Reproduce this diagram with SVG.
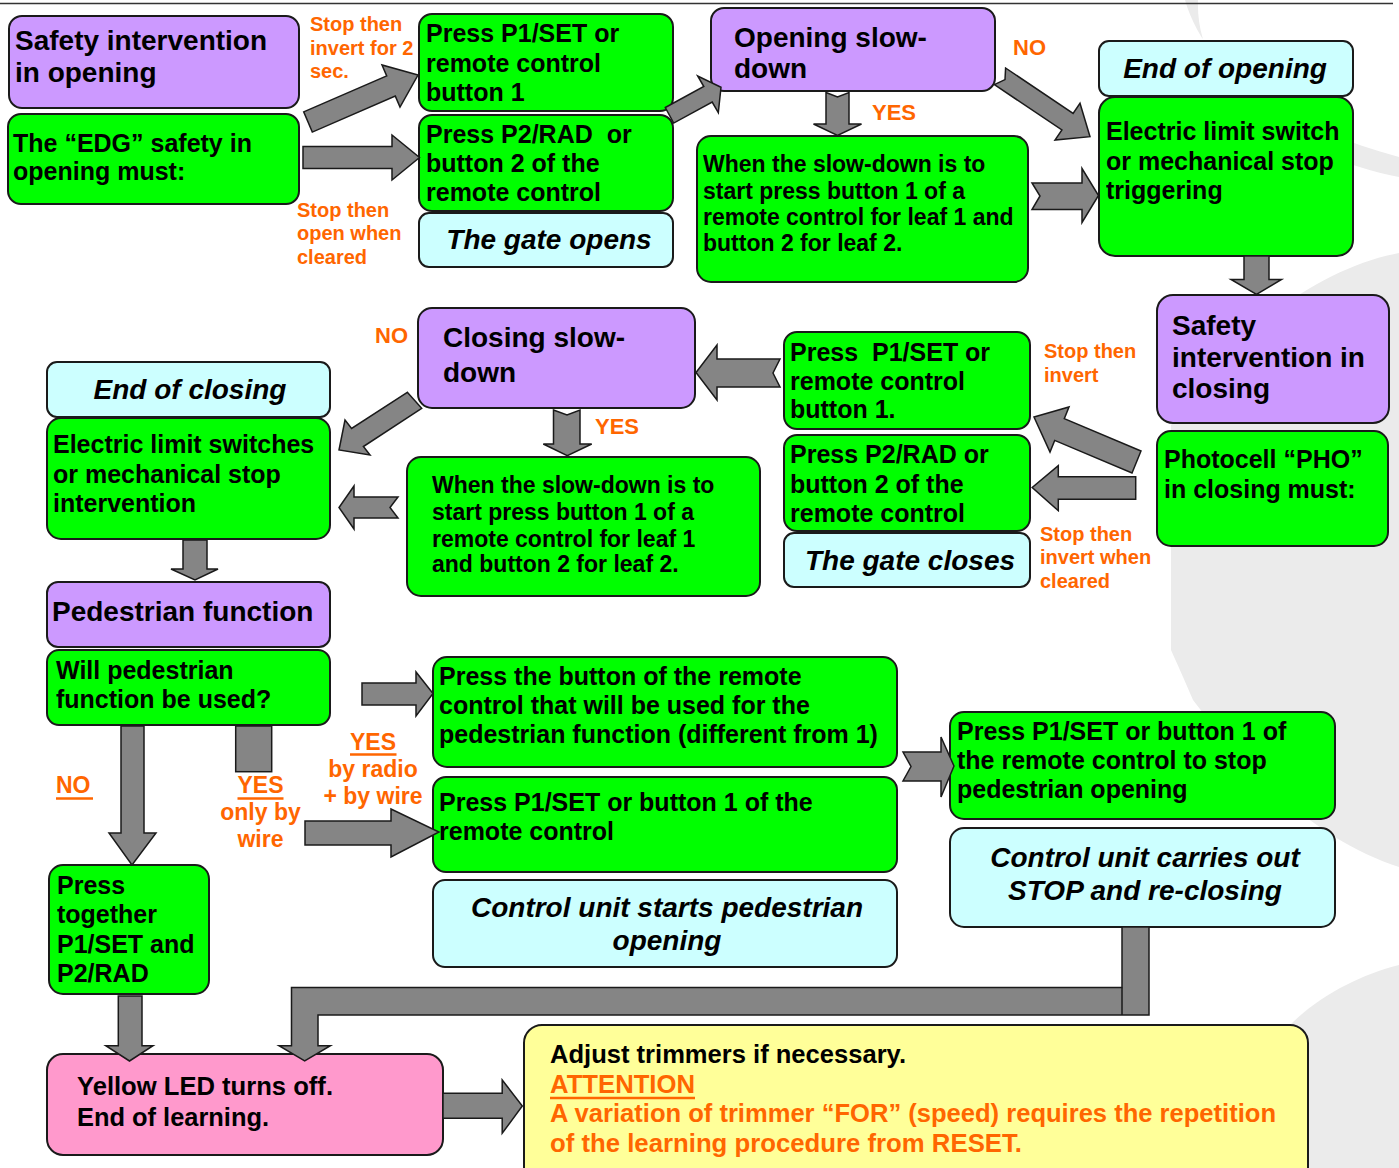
<svg xmlns="http://www.w3.org/2000/svg" width="1399" height="1168" viewBox="0 0 1399 1168">
<style>
.b{stroke:#1a1a1a;stroke-width:2}
.pu{fill:#cc99ff}.gr{fill:#00ff00}.cy{fill:#ccffff}.pk{fill:#ff99cc}.ye{fill:#ffff99}
text{font-family:"Liberation Sans",Arial,sans-serif;font-weight:bold;fill:#000}
.s25{font-size:25px}.s28{font-size:28px}.s23{font-size:23px}
.it{font-style:italic}
.o{fill:#ff6600}
.o20{font-size:20px}.o22{font-size:22px}.o23{font-size:23px}
.ar{fill:#858585;stroke:#1a1a1a;stroke-width:1.5;stroke-linejoin:miter}
.ul{stroke:#ff6600;stroke-width:2.5}
.bg{fill:#ebebeb}
</style>
<rect width="1399" height="1168" fill="#ffffff"/>
<g id="background">
<path class="bg" d="M1185,0 C1205,70 1280,125 1399,157 L1399,177 C1270,150 1195,80 1198,0 Z"/>
<path class="bg" d="M1399,253 C1350,262 1300,290 1250,330 L1171,425 L1171,650 C1180,670 1188,688 1193,700 C1260,790 1330,845 1399,867 Z"/>
<path class="bg" d="M1399,965 C1360,975 1320,995 1290,1025 L1290,1168 L1399,1168 Z"/>
<line x1="0" y1="3.5" x2="1393" y2="3.5" stroke="#333" stroke-width="1.5"/>
</g>

<g id="n-safety-opening"><rect class="b pu" x="9" y="16" width="290" height="92" rx="13"/>
<text class="s28" x="15" y="50">Safety intervention</text><text class="s28" x="15" y="82">in opening</text></g>
<g id="n-edg"><rect class="b gr" x="8" y="114" width="291" height="90" rx="13"/>
<text class="s25" x="13" y="152">The “EDG” safety in</text><text class="s25" x="13" y="180">opening must:</text></g>
<g id="n-p1-open"><rect class="b gr" x="419" y="14" width="254" height="97" rx="13"/>
<text class="s25" x="426" y="42">Press P1/SET or</text><text class="s25" x="426" y="72">remote control</text><text class="s25" x="426" y="101">button 1</text></g>
<g id="n-p2-open"><rect class="b gr" x="419" y="115" width="254" height="96" rx="13"/>
<text class="s25" x="426" y="143" xml:space="preserve">Press P2/RAD  or</text><text class="s25" x="426" y="172">button 2 of the</text><text class="s25" x="426" y="201">remote control</text></g>
<g id="n-gate-opens"><rect class="b cy" x="419" y="213" width="254" height="54" rx="10"/>
<text class="s28 it" x="549" y="249" text-anchor="middle">The gate opens</text></g>
<g id="n-open-slow"><rect class="b pu" x="711" y="8" width="284" height="83" rx="13"/>
<text class="s28" x="734" y="47">Opening slow-</text><text class="s28" x="734" y="78">down</text></g>
<g id="n-when-open"><rect class="b gr" x="697" y="136" width="331" height="146" rx="14"/>
<text class="s23" x="703" y="172">When the slow-down is to</text><text class="s23" x="703" y="199">start press button 1 of a</text><text class="s23" x="703" y="225">remote control for leaf 1 and</text><text class="s23" x="703" y="251">button 2 for leaf 2.</text></g>
<g id="n-end-open"><rect class="b cy" x="1099" y="41" width="254" height="55" rx="10"/>
<text class="s28 it" x="1225" y="78" text-anchor="middle">End of opening</text></g>
<g id="n-limit-open"><rect class="b gr" x="1099" y="97" width="254" height="159" rx="16"/>
<text class="s25" x="1106" y="140">Electric limit switch</text><text class="s25" x="1106" y="170">or mechanical stop</text><text class="s25" x="1106" y="199">triggering</text></g>
<g id="n-safety-closing"><rect class="b pu" x="1157" y="295" width="232" height="128" rx="16"/>
<text class="s28" x="1172" y="335">Safety</text><text class="s28" x="1172" y="367">intervention in</text><text class="s28" x="1172" y="398">closing</text></g>
<g id="n-pho"><rect class="b gr" x="1157" y="431" width="231" height="115" rx="14"/>
<text class="s25" x="1164" y="468">Photocell “PHO”</text><text class="s25" x="1164" y="498">in closing must:</text></g>
<g id="n-p1-close"><rect class="b gr" x="784" y="332" width="246" height="97" rx="13"/>
<text class="s25" x="790" y="361" xml:space="preserve">Press  P1/SET or</text><text class="s25" x="790" y="390">remote control</text><text class="s25" x="790" y="418">button 1.</text></g>
<g id="n-p2-close"><rect class="b gr" x="784" y="435" width="246" height="96" rx="13"/>
<text class="s25" x="790" y="463">Press P2/RAD or</text><text class="s25" x="790" y="493">button 2 of the</text><text class="s25" x="790" y="522">remote control</text></g>
<g id="n-gate-closes"><rect class="b cy" x="784" y="533" width="246" height="54" rx="10"/>
<text class="s28 it" x="910" y="570" text-anchor="middle">The gate closes</text></g>
<g id="n-close-slow"><rect class="b pu" x="418" y="308" width="277" height="100" rx="14"/>
<text class="s28" x="443" y="347">Closing slow-</text><text class="s28" x="443" y="382">down</text></g>
<g id="n-when-close"><rect class="b gr" x="407" y="457" width="353" height="139" rx="14"/>
<text class="s23" x="432" y="493">When the slow-down is to</text><text class="s23" x="432" y="520">start press button 1 of a</text><text class="s23" x="432" y="547">remote control for leaf 1</text><text class="s23" x="432" y="572">and button 2 for leaf 2.</text></g>
<g id="n-end-close"><rect class="b cy" x="47" y="362" width="283" height="55" rx="10"/>
<text class="s28 it" x="190" y="399" text-anchor="middle">End of closing</text></g>
<g id="n-limit-close"><rect class="b gr" x="47" y="418" width="283" height="121" rx="14"/>
<text class="s25" x="53" y="453">Electric limit switches</text><text class="s25" x="53" y="483">or mechanical stop</text><text class="s25" x="53" y="512">intervention</text></g>
<g id="n-ped"><rect class="b pu" x="47" y="582" width="283" height="65" rx="11"/>
<text class="s28" x="52" y="621">Pedestrian function</text></g>
<g id="n-ped-q"><rect class="b gr" x="47" y="650" width="283" height="75" rx="12"/>
<text class="s25" x="56" y="679">Will pedestrian</text><text class="s25" x="56" y="708">function be used?</text></g>
<g id="n-together"><rect class="b gr" x="49" y="865" width="160" height="129" rx="14"/>
<text class="s25" x="57" y="894">Press</text><text class="s25" x="57" y="923">together</text><text class="s25" x="57" y="953">P1/SET and</text><text class="s25" x="57" y="982">P2/RAD</text></g>
<g id="n-press-remote"><rect class="b gr" x="433" y="657" width="464" height="110" rx="14"/>
<text class="s25" x="439" y="685">Press the button of the remote</text><text class="s25" x="439" y="714">control that will be used for the</text><text class="s25" x="439" y="743">pedestrian function (different from 1)</text></g>
<g id="n-press-p1-ped"><rect class="b gr" x="433" y="777" width="464" height="95" rx="13"/>
<text class="s25" x="439" y="811">Press P1/SET or button 1 of the</text><text class="s25" x="439" y="840">remote control</text></g>
<g id="n-starts-ped"><rect class="b cy" x="433" y="880" width="464" height="87" rx="12"/>
<text class="s28 it" x="667" y="917" text-anchor="middle">Control unit starts pedestrian</text><text class="s28 it" x="667" y="950" text-anchor="middle">opening</text></g>
<g id="n-stop-ped"><rect class="b gr" x="950" y="712" width="385" height="107" rx="14"/>
<text class="s25" x="957" y="740">Press P1/SET or button 1 of</text><text class="s25" x="957" y="769">the remote control to stop</text><text class="s25" x="957" y="798">pedestrian opening</text></g>
<g id="n-reclose"><rect class="b cy" x="950" y="828" width="385" height="99" rx="14"/>
<text class="s28 it" x="1145" y="867" text-anchor="middle">Control unit carries out</text><text class="s28 it" x="1145" y="900" text-anchor="middle">STOP and re-closing</text></g>
<g id="n-led"><rect class="b pk" x="47" y="1054" width="396" height="101" rx="16"/>
<text class="s25" x="77" y="1095" textLength="256" lengthAdjust="spacingAndGlyphs">Yellow LED turns off.</text><text class="s25" x="77" y="1126" textLength="192" lengthAdjust="spacingAndGlyphs">End of learning.</text></g>
<g id="n-adjust"><rect class="b ye" x="524" y="1025" width="784" height="160" rx="18"/>
<text class="s25" x="550" y="1063" textLength="356" lengthAdjust="spacingAndGlyphs">Adjust trimmers if necessary.</text>
<text class="s25 o" x="550" y="1093" textLength="145" lengthAdjust="spacingAndGlyphs">ATTENTION</text>
<line class="ul" x1="550" y1="1098" x2="695" y2="1098"/>
<text class="s25 o" x="550" y="1122" textLength="726" lengthAdjust="spacingAndGlyphs">A variation of trimmer “FOR” (speed) requires the repetition</text>
<text class="s25 o" x="550" y="1152" textLength="472" lengthAdjust="spacingAndGlyphs">of the learning procedure from RESET.</text></g>

<g id="labels">
<text class="o o20" x="310" y="31">Stop then</text><text class="o o20" x="310" y="55">invert for 2</text><text class="o o20" x="310" y="78">sec.</text>
<text class="o o20" x="297" y="217">Stop then</text><text class="o o20" x="297" y="240">open when</text><text class="o o20" x="297" y="264">cleared</text>
<text class="o o22" x="1013" y="55">NO</text>
<text class="o o22" x="872" y="120">YES</text>
<text class="o o22" x="375" y="343">NO</text>
<text class="o o22" x="595" y="434">YES</text>
<text class="o o20" x="1044" y="358">Stop then</text><text class="o o20" x="1044" y="382">invert</text>
<text class="o o20" x="1040" y="541">Stop then</text><text class="o o20" x="1040" y="564">invert when</text><text class="o o20" x="1040" y="588">cleared</text>
<text class="o o23" x="56" y="793">NO</text><line class="ul" x1="56" y1="798.5" x2="93" y2="798.5"/>
<text class="o o23" x="260.5" y="793" text-anchor="middle">YES</text><line class="ul" x1="237.5" y1="798.5" x2="283.5" y2="798.5"/>
<text class="o o23" x="260.5" y="820" text-anchor="middle">only by</text><text class="o o23" x="260.5" y="847" text-anchor="middle">wire</text>
<text class="o o23" x="373" y="750" text-anchor="middle">YES</text><line class="ul" x1="350" y1="754.5" x2="396.5" y2="754.5"/>
<text class="o o23" x="373" y="777" text-anchor="middle">by radio</text><text class="o o23" x="373" y="804" text-anchor="middle">+ by wire</text>
</g>

<g id="connectors">
<polygon class="ar" points="303.7,111.9 386.7,75.9 382,65 418,75 400,107 395.3,96.1 312.3,132.1"/>
<polygon class="ar" points="303,146.5 392,146.5 392,135 419.5,157.5 392,180 392,168.5 303,168.5"/>
<polygon class="ar" points="665.3,107.5 703.8,86.5 697.7,76 721,87.3 718.3,112.7 712.2,102.1 673.7,123.1"/>
<polygon class="ar" points="826,92.5 837.5,97 849,92.5 849,124 861.5,124 837.5,135.5 813.5,124 826,124"/>
<polygon class="ar" points="1005.6,68 1073.1,113.4 1080,103.3 1090,136.7 1055,140 1061.9,130 994.4,84.6 1005,79.6"/>
<polygon class="ar" points="1032,183 1082,183 1082,168.5 1098.5,195.5 1082,222.5 1082,209.5 1032,209.5 1040,196"/>
<polygon class="ar" points="1244,256 1269,256 1269,279.5 1281.5,279.5 1256.5,294.5 1231,279.5 1244,279.5"/>
<polygon class="ar" points="1141,451 1064.3,418.6 1069,407 1034,417 1050,452 1054.7,440.4 1132,473"/>
<polygon class="ar" points="1135.7,476.7 1058.3,476.7 1058.3,465.7 1032.2,487.5 1058.3,510.7 1058.3,499.3 1135.7,499.3"/>
<polygon class="ar" points="780,359 717,359 717,345 696,372.5 717,400 717,387 780,387 773,373"/>
<polygon class="ar" points="553.5,410 567,415 580,410 580,444 591.7,444 567.3,455.7 543.3,444 553.5,444"/>
<polygon class="ar" points="407.3,392.3 351.6,428.5 345,420 339,450 370,455 363.4,446.5 421.7,408.3"/>
<polygon class="ar" points="398,497 354,497 354,486 339,507.5 354,529 354,518 398,518 390,507.5"/>
<polygon class="ar" points="183,540 207,540 207,569 218,569 195,580 171,569 183,569"/>
<polygon class="ar" points="362,683 416,683 416,672 433,693.5 416,716 416,705 362,705"/>
<polygon class="ar" points="121,726 144,726 144,833 156,833 132,865 109,833 121,833"/>
<rect class="ar" x="235.7" y="726" width="36" height="45.7"/>
<polygon class="ar" points="305,821 391,821 391,809 439,832 391,857 391,845 305,845"/>
<polygon class="ar" points="903,752 941,752 941,737 954,766 941,797 941,781 903,781 911,766.5"/>
<polygon class="ar" points="1122,927 1149,927 1149,1015 318,1015 318,1045.7 330.4,1045.7 304.7,1061 279,1045.7 291.5,1045.7 291.5,987.5 1122,987.5"/>
<line x1="1122" y1="987.5" x2="1122" y2="1015" stroke="#1a1a1a" stroke-width="1.5"/>
<polygon class="ar" points="118.3,996 142,996 142,1045.7 153,1045.7 129.5,1061 105.8,1045.7 118.3,1045.7"/>
<polygon class="ar" points="443,1093.3 502.2,1093.3 502.2,1080 522.3,1106 502.2,1133.3 502.2,1118.3 443,1118.3"/>
</g>
</svg>
